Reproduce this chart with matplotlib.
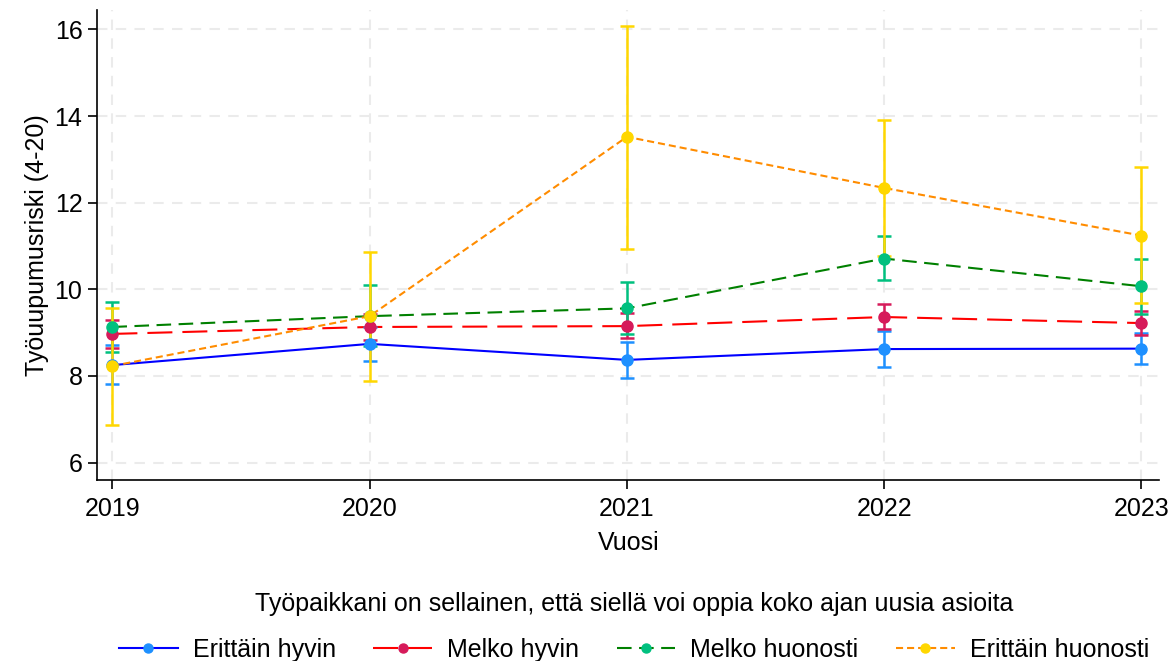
import matplotlib.pyplot as plt
from matplotlib.lines import Line2D

plt.rcParams['font.family'] = ['Liberation Sans', 'DejaVu Sans']

years = [2019, 2020, 2021, 2022, 2023]
labels = ['Erittäin hyvin', 'Melko hyvin', 'Melko huonosti', 'Erittäin huonosti']

# mean and confidence limits per group
mean_eh = [8.25, 8.74, 8.37, 8.62, 8.63]
low_eh = [7.82, 8.34, 7.95, 8.21, 8.28]
high_eh = [8.71, 9.14, 8.78, 9.03, 8.99]

mean_mh = [8.97, 9.13, 9.15, 9.36, 9.22]
low_mh = [8.64, 8.83, 8.87, 9.08, 8.94]
high_mh = [9.29, 9.43, 9.45, 9.66, 9.49]

mean_mhu = [9.13, 9.38, 9.56, 10.71, 10.07]
low_mhu = [8.55, 8.70, 8.97, 10.21, 9.43]
high_mhu = [9.70, 10.09, 10.16, 11.22, 10.71]

mean_ehu = [8.23, 9.38, 13.52, 12.34, 11.24]
low_ehu = [6.87, 7.89, 10.94, 10.77, 9.68]
high_ehu = [9.56, 10.85, 16.07, 13.91, 12.83]

series = [
    (mean_eh, low_eh, high_eh, '#0000ff', '#1e90ff', '-'),
    (mean_mh, low_mh, high_mh, '#ff0000', '#d61a5a', (0, (12, 4.8))),
    (mean_mhu, low_mhu, high_mhu, '#008000', '#00c07f', (0, (7, 3.6))),
    (mean_ehu, low_ehu, high_ehu, '#ff8c00', '#ffd700', (0, (3.4, 1.9))),
]

fs = 18
fig = plt.figure(figsize=(11.74, 6.61), dpi=100)
ax = fig.add_axes([0.0826, 0.274, 0.905, 0.711])

handles = []
for (m, lo, hi, lc, mc, ls), lab in zip(series, labels):
    err = [[a - b for a, b in zip(m, lo)], [b - a for a, b in zip(m, hi)]]
    ax.plot(years, m, color=lc, ls=ls, lw=1.5, zorder=2)
    ax.errorbar(years, m, yerr=err, fmt='none', ecolor=mc, elinewidth=1.8,
                capsize=5, capthick=1.8, zorder=3)
    ax.plot(years, m, ls='none', marker='o', ms=8, color=mc, zorder=4)
    handles.append(Line2D([], [], color=lc, ls=ls, lw=1.5, marker='o', ms=6.5,
                          mfc=mc, mec=mc))

ax.set_xlim(2018.94, 2023.07)
ax.set_ylim(5.6, 16.45)
ax.set_xticks(years)
ax.set_yticks([6, 8, 10, 12, 14, 16])
ax.tick_params(labelsize=fs, length=6.5, width=1.2)
ax.tick_params(axis='x', pad=6)
ax.tick_params(axis='y', pad=4)
ax.grid(True, color='#ebebeb', ls=(0, (5, 4)), lw=1.5)
ax.set_axisbelow(True)
for s in ['top', 'right']:
    ax.spines[s].set_visible(False)
ax.spines['left'].set_linewidth(1.2)
ax.spines['bottom'].set_linewidth(1.2)
ax.set_xlabel('Vuosi', fontsize=fs, labelpad=7)
ax.set_ylabel('Työuupumusriski (4-20)', fontsize=fs, labelpad=4)

leg = fig.legend(handles, labels, loc='upper center', bbox_to_anchor=(0.540, 0.105),
                 ncol=4, frameon=False, fontsize=fs, borderpad=0, borderaxespad=0,
                 title='Työpaikkani on sellainen, että siellä voi oppia koko ajan uusia asioita',
                 title_fontsize=fs, handlelength=2.35, handletextpad=0.6,
                 columnspacing=1.5, labelspacing=0.9)

fig.savefig('out.png', dpi=100)
